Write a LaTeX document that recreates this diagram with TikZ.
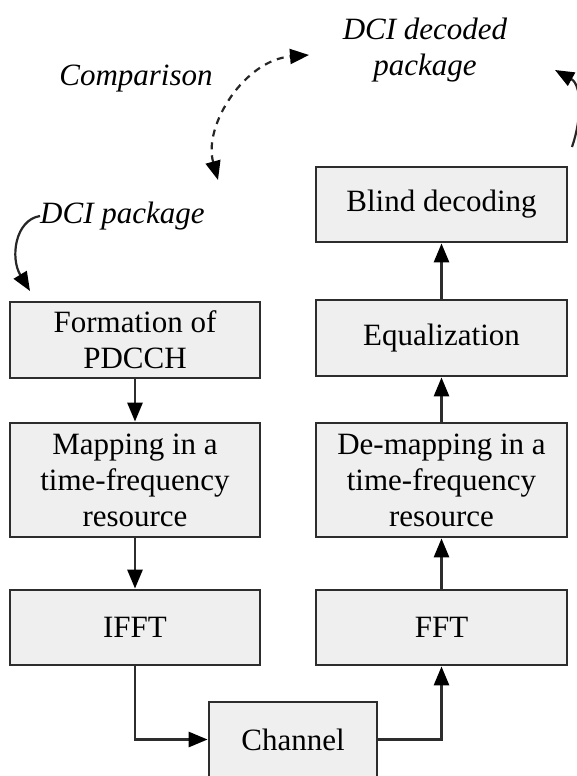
\documentclass[tikz,border=0pt]{standalone}
\usepackage{fontspec}
\setmainfont{Liberation Serif}
\usetikzlibrary{arrows.meta}
\definecolor{edgec}{RGB}{45,45,45}
\definecolor{boxfill}{RGB}{239,239,239}
\begin{document}
\begin{tikzpicture}[x=1pt,y=-1pt,
  blk/.style={draw=edgec, line width=2.8pt, fill=boxfill, font=\fontsize{31}{36}\selectfont, align=center, inner sep=0pt},
  lbox/.style={blk, minimum width=250pt},
  rbox/.style={blk, minimum width=251pt},
  tipa/.tip={Triangle[length=19pt,width=15pt,fill=black,color=black]},
  flow/.style={draw=edgec, line width=2.8pt, -tipa},
  curv/.style={draw=black!85, line width=2.2pt, -tipa},
  lbl/.style={font=\fontsize{31}{36}\selectfont\itshape, align=center, inner sep=0pt}
]
\useasboundingbox (0,0) rectangle (577,776);
\clip (0,0) rectangle (577,776);
\fill[white] (0,0) rectangle (577,776);

% left column
\node[lbox, minimum height=76pt] (form) at (135,340) {Formation of\\PDCCH};
\node[lbox, minimum height=114pt] (map) at (135,480) {Mapping in a\\time-frequency\\resource};
\node[lbox, minimum height=75pt] (ifft) at (135,627.5) {IFFT};
% right column
\node[rbox, minimum height=75pt] (blind) at (441.5,204.5) {Blind decoding};
\node[rbox, minimum height=76pt] (eq) at (441.5,338) {Equalization};
\node[rbox, minimum height=114pt] (demap) at (441.5,480) {De-mapping in a\\time-frequency\\resource};
\node[rbox, minimum height=75pt] (fft) at (441.5,627.5) {FFT};
% channel
\node[blk, minimum width=168pt, minimum height=75pt] (chan) at (293,739.5) {Channel};

% labels
\node[lbl] (cmp) at (136,79) {Comparison};
\node[lbl] (dcid) at (425,50) {DCI decoded\\package};
\node[lbl, anchor=west] (dcip) at (40,216) {DCI package};

% flow connectors
\draw[flow] (form) -- (map);
\draw[flow] (map) -- (ifft);
\draw[flow] (ifft.south) |- (chan.west);
\draw[flow] (chan.east) -| (fft.south);
\draw[flow] (fft) -- (demap);
\draw[flow] (demap) -- (eq);
\draw[flow] (eq) -- (blind);

% curved arrows
\coordinate (ctop) at (309,55);
\coordinate (cbot) at (218,180);
\draw[curv, tipa-tipa, dash pattern=on 7pt off 6pt] (cbot) .. controls (203,125) and (245,60) .. (ctop);
\draw[curv] (dcip.west) .. controls (15,220) and (10,258) .. (30,291);
\coordinate (rstart) at (572,147);
\coordinate (rtip) at (555,70);
\draw[curv] (rstart) .. controls (582,118) and (582,85) .. (rtip);
\end{tikzpicture}
\end{document}
